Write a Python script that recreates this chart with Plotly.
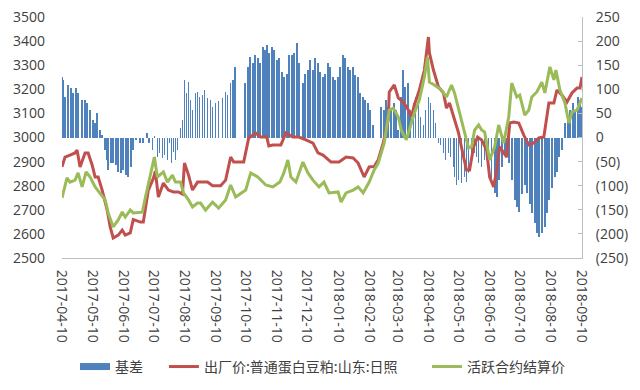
import plotly.graph_objects as go

# ---- tick labels ----
tick_dates = ["2017-04-10", "2017-05-10", "2017-06-10", "2017-07-10", "2017-08-10", "2017-09-10",
              "2017-10-10", "2017-11-10", "2017-12-10", "2018-01-10", "2018-02-10", "2018-03-10",
              "2018-04-10", "2018-05-10", "2018-06-10", "2018-07-10", "2018-08-10", "2018-09-10"]
left_ticks = [2500, 2600, 2700, 2800, 2900, 3000, 3100, 3200, 3300, 3400, 3500]
right_ticks = [-250, -200, -150, -100, -50, 0, 50, 100, 150, 200, 250]
right_labels = ["(250)", "(200)", "(150)", "(100)", "(50)", "0", "50", "100", "150", "200", "250"]

# ---- 基差 (bars, right axis) ----
basis_dates = [
    "2017-04-10", "2017-04-11", "2017-04-13", "2017-04-16", "2017-04-19", "2017-04-21", "2017-04-24", "2017-04-26",
    "2017-04-30", "2017-05-03", "2017-05-05", "2017-05-08", "2017-05-11", "2017-05-13", "2017-05-15", "2017-05-18",
    "2017-05-20", "2017-05-23", "2017-05-25", "2017-05-26", "2017-05-29", "2017-05-31", "2017-06-03", "2017-06-05",
    "2017-06-08", "2017-06-10", "2017-06-13", "2017-06-15", "2017-06-18", "2017-06-20", "2017-06-23", "2017-06-27",
    "2017-06-30", "2017-07-04", "2017-07-06", "2017-07-09", "2017-07-11", "2017-07-14", "2017-07-16", "2017-07-19",
    "2017-07-21", "2017-07-24", "2017-07-26", "2017-07-28", "2017-07-30", "2017-08-01", "2017-08-03", "2017-08-06",
    "2017-08-08", "2017-08-10", "2017-08-12", "2017-08-14", "2017-08-16", "2017-08-18", "2017-08-21", "2017-08-23",
    "2017-08-25", "2017-08-28", "2017-08-30", "2017-09-02", "2017-09-05", "2017-09-07", "2017-09-10", "2017-09-13",
    "2017-09-17", "2017-09-20", "2017-09-22", "2017-09-25", "2017-09-27", "2017-09-29", "2017-10-09", "2017-10-12",
    "2017-10-14", "2017-10-17", "2017-10-19", "2017-10-22", "2017-10-24", "2017-10-27", "2017-10-29", "2017-10-31",
    "2017-11-02", "2017-11-05", "2017-11-07", "2017-11-10", "2017-11-12", "2017-11-15", "2017-11-17", "2017-11-20",
    "2017-11-22", "2017-11-25", "2017-11-27", "2017-11-30", "2017-12-02", "2017-12-06", "2017-12-08", "2017-12-11",
    "2017-12-13", "2017-12-16", "2017-12-18", "2017-12-21", "2017-12-23", "2017-12-26", "2017-12-28", "2017-12-31",
    "2018-01-02", "2018-01-05", "2018-01-07", "2018-01-10", "2018-01-12", "2018-01-15", "2018-01-17", "2018-01-20",
    "2018-01-22", "2018-01-25", "2018-01-27", "2018-01-30", "2018-02-01", "2018-02-04", "2018-02-06", "2018-02-09",
    "2018-02-11", "2018-02-14", "2018-02-22", "2018-02-25", "2018-02-27", "2018-03-01", "2018-03-04", "2018-03-07",
    "2018-03-09", "2018-03-11", "2018-03-14", "2018-03-16", "2018-03-18", "2018-03-21", "2018-03-23", "2018-03-26",
    "2018-03-28", "2018-03-31", "2018-04-02", "2018-04-05", "2018-04-07", "2018-04-10", "2018-04-12", "2018-04-15",
    "2018-04-17", "2018-04-20", "2018-04-22", "2018-04-25", "2018-04-27", "2018-04-30", "2018-05-02", "2018-05-05",
    "2018-05-06", "2018-05-08", "2018-05-10", "2018-05-13", "2018-05-16", "2018-05-18", "2018-05-20", "2018-05-23",
    "2018-05-26", "2018-05-28", "2018-05-30", "2018-06-02", "2018-06-05", "2018-06-07", "2018-06-09", "2018-06-12",
    "2018-06-15", "2018-06-17", "2018-06-19", "2018-06-22", "2018-06-25", "2018-06-27", "2018-06-29", "2018-07-02",
    "2018-07-05", "2018-07-07", "2018-07-09", "2018-07-12", "2018-07-15", "2018-07-17", "2018-07-20", "2018-07-22",
    "2018-07-25", "2018-07-27", "2018-07-29", "2018-08-01", "2018-08-04", "2018-08-06", "2018-08-08", "2018-08-11",
    "2018-08-14", "2018-08-16", "2018-08-18", "2018-08-21", "2018-08-24", "2018-08-27", "2018-08-29", "2018-09-01",
    "2018-09-03", "2018-09-06", "2018-09-08", "2018-09-10"]
basis_values = [
    125, 120, 84, 109, 102, 92, 102, 92,
    78, 78, 72, 57, 37, 30, 51, 16,
    5, -26, -47, -68, -53, -53, -57, -72,
    -74, -68, -78, -82, -61, -26, -5, -11,
    -11, 9, -11, -26, 3, -40, -32, -43,
    -36, -47, -11, -53, -30, -47, -26, 20,
    36, 120, 92, 115, 78, 57, 92, 94,
    84, 88, 98, 82, 78, 63, 72, 75,
    82, 94, 88, 113, 120, 146, 113, 146,
    167, 155, 171, 165, 155, 188, 182, 192,
    176, 188, 182, 161, 165, 136, 126, 132,
    171, 171, 176, 196, 155, 113, 132, 140,
    161, 140, 165, 155, 136, 126, 132, 155,
    146, 126, 120, 126, 146, 171, 165, 146,
    140, 146, 130, 126, 92, 84, 78, 72,
    57, 26, 63, 57, 78, 63, 57, 72,
    57, 16, 84, 140, 105, 113, 57, 72,
    84, 78, 43, 26, 57, 84, 72, 57,
    30, -11, -16, -32, -47, -32, -40, -61,
    -82, -99, -89, -95, -82, -92, -74, -53,
    -32, -40, -53, -61, -47, -36, -74, -95,
    -115, -124, -89, -61, -32, -26, -53, -89,
    -130, -144, -155, -118, -99, -115, -137, -157,
    -177, -198, -207, -198, -185, -157, -130, -105,
    -82, -72, -40, -26, 30, 43, 57, 72,
    57, 84, 78, 63]

# ---- 出厂价:普通蛋白豆粕:山东:日照 (left axis) ----
spot_dates = [
    "2017-04-10", "2017-04-13", "2017-04-18", "2017-04-23", "2017-04-25", "2017-04-28", "2017-05-03", "2017-05-06",
    "2017-05-10", "2017-05-13", "2017-05-16", "2017-05-20", "2017-05-25", "2017-05-28", "2017-05-31", "2017-06-05",
    "2017-06-09", "2017-06-12", "2017-06-17", "2017-06-20", "2017-06-27", "2017-06-30", "2017-07-05", "2017-07-10",
    "2017-07-12", "2017-07-15", "2017-07-20", "2017-07-25", "2017-07-30", "2017-08-04", "2017-08-08", "2017-08-10",
    "2017-08-14", "2017-08-18", "2017-08-23", "2017-09-02", "2017-09-07", "2017-09-15", "2017-09-20", "2017-09-25",
    "2017-09-28", "2017-10-08", "2017-10-13", "2017-10-20", "2017-10-25", "2017-10-31", "2017-11-02", "2017-11-06",
    "2017-11-14", "2017-11-19", "2017-11-26", "2017-12-02", "2017-12-09", "2017-12-16", "2017-12-21", "2017-12-26",
    "2018-01-03", "2018-01-11", "2018-01-18", "2018-01-25", "2018-01-30", "2018-02-05", "2018-02-10", "2018-02-15",
    "2018-02-19", "2018-02-24", "2018-03-01", "2018-03-02", "2018-03-07", "2018-03-11", "2018-03-16", "2018-03-21",
    "2018-03-24", "2018-03-27", "2018-04-01", "2018-04-06", "2018-04-10", "2018-04-11", "2018-04-15", "2018-04-20",
    "2018-04-25", "2018-04-28", "2018-05-01", "2018-05-06", "2018-05-10", "2018-05-15", "2018-05-18", "2018-05-21",
    "2018-05-25", "2018-05-29", "2018-06-02", "2018-06-07", "2018-06-10", "2018-06-14", "2018-06-17", "2018-06-20",
    "2018-06-24", "2018-06-27", "2018-06-30", "2018-07-04", "2018-07-09", "2018-07-14", "2018-07-19", "2018-07-24",
    "2018-07-29", "2018-08-03", "2018-08-08", "2018-08-13", "2018-08-16", "2018-08-21", "2018-08-26", "2018-08-31",
    "2018-09-05", "2018-09-08", "2018-09-10"]
spot_values = [
    2878, 2919, 2927, 2936, 2948, 2878, 2936, 2936,
    2886, 2836, 2836, 2782, 2699, 2629, 2583, 2595,
    2616, 2595, 2604, 2660, 2649, 2649, 2782, 2830,
    2860, 2753, 2811, 2782, 2774, 2774, 2765, 2894,
    2845, 2782, 2815, 2815, 2800, 2800, 2823, 2919,
    2898, 2898, 2998, 3018, 3002, 3002, 2965, 2969,
    2969, 3019, 3002, 3002, 2990, 2977, 2936, 2927,
    2898, 2898, 2919, 2915, 2894, 2836, 2878, 2880,
    2907, 2977, 3073, 3189, 3218, 3164, 3147, 3114,
    3085, 3135, 3197, 3280, 3417, 3351, 3280, 3210,
    3185, 3122, 3143, 3073, 3019, 2919, 2865, 2865,
    2961, 3002, 2990, 2948, 2836, 2795, 2865, 2961,
    2936, 2919, 3060, 3064, 3060, 3010, 2969, 2977,
    2998, 3002, 3143, 3143, 3197, 3176, 3147, 3185,
    3205, 3205, 3251]

# ---- 活跃合约结算价 (left axis) ----
fut_dates = [
    "2017-04-10", "2017-04-15", "2017-04-18", "2017-04-23", "2017-04-26", "2017-04-30", "2017-05-04", "2017-05-08",
    "2017-05-13", "2017-05-18", "2017-05-23", "2017-05-26", "2017-05-31", "2017-06-05", "2017-06-09", "2017-06-12",
    "2017-06-17", "2017-06-20", "2017-06-29", "2017-07-02", "2017-07-05", "2017-07-11", "2017-07-14", "2017-07-20",
    "2017-07-24", "2017-07-29", "2017-08-01", "2017-08-06", "2017-08-09", "2017-08-14", "2017-08-18", "2017-08-23",
    "2017-08-26", "2017-08-31", "2017-09-07", "2017-09-13", "2017-09-20", "2017-09-25", "2017-09-30", "2017-10-10",
    "2017-10-15", "2017-10-22", "2017-10-30", "2017-11-06", "2017-11-13", "2017-11-17", "2017-11-21", "2017-11-24",
    "2017-11-29", "2017-12-06", "2017-12-11", "2017-12-16", "2017-12-22", "2017-12-27", "2018-01-01", "2018-01-10",
    "2018-01-13", "2018-01-18", "2018-01-25", "2018-01-30", "2018-02-04", "2018-02-10", "2018-02-15", "2018-02-19",
    "2018-02-25", "2018-03-02", "2018-03-06", "2018-03-11", "2018-03-14", "2018-03-19", "2018-03-22", "2018-03-27",
    "2018-04-01", "2018-04-06", "2018-04-09", "2018-04-11", "2018-04-16", "2018-04-23", "2018-04-28", "2018-05-03",
    "2018-05-06", "2018-05-11", "2018-05-16", "2018-05-20", "2018-05-23", "2018-05-26", "2018-05-30", "2018-06-02",
    "2018-06-05", "2018-06-10", "2018-06-15", "2018-06-19", "2018-06-24", "2018-06-29", "2018-07-02", "2018-07-07",
    "2018-07-10", "2018-07-15", "2018-07-19", "2018-07-22", "2018-07-27", "2018-08-01", "2018-08-04", "2018-08-09",
    "2018-08-13", "2018-08-15", "2018-08-19", "2018-08-24", "2018-08-28", "2018-08-31", "2018-09-05", "2018-09-10"]
fut_values = [
    2749, 2832, 2815, 2823, 2853, 2795, 2857, 2836,
    2795, 2770, 2741, 2687, 2629, 2658, 2691, 2670,
    2699, 2687, 2690, 2750, 2811, 2919, 2836, 2857,
    2815, 2844, 2815, 2815, 2770, 2741, 2712, 2728,
    2728, 2699, 2732, 2707, 2741, 2803, 2753, 2782,
    2853, 2836, 2803, 2795, 2815, 2853, 2907, 2836,
    2815, 2898, 2853, 2823, 2795, 2815, 2770, 2774,
    2732, 2770, 2782, 2795, 2770, 2815, 2865, 2894,
    2977, 3114, 3122, 3085, 3030, 2990, 3031, 3102,
    3156, 3251, 3334, 3230, 3218, 3197, 3168, 3218,
    3185, 3102, 3023, 2956, 2961, 3031, 3052, 3031,
    3023, 2907, 2961, 3052, 2977, 3085, 3226, 3168,
    3176, 3093, 3114, 3168, 3189, 3230, 3185, 3293,
    3239, 3280, 3197, 3143, 3060, 3106, 3114, 3164]

FONT = "Open Sans, Noto Sans CJK SC, sans-serif"
LEG_FONT = dict(family="Noto Sans CJK SC, sans-serif", size=14, color="#404040")
AXIS_GREY = "#bfbfbf"
TEXT = "#404040"
BLUE, RED, GREEN = "#4f81bd", "#c0504d", "#9bbb59"

fig = go.Figure()
fig.add_trace(go.Bar(
    x=basis_dates, y=basis_values, name="基差", yaxis="y",
    marker=dict(color=BLUE, line=dict(width=0)),
    width=0.7 * 86400000, showlegend=False,
))
# legend swatch for the bars (wide flat rectangle, as in the original)
fig.add_trace(go.Scatter(
    x=[None], y=[None], name="基差", yaxis="y", mode="lines",
    line=dict(color=BLUE, width=7), legend="legend",
))
fig.add_trace(go.Scatter(
    x=spot_dates, y=spot_values, name="出厂价:普通蛋白豆粕:山东:日照", yaxis="y2",
    mode="lines", line=dict(color=RED, width=3), legend="legend2",
))
fig.add_trace(go.Scatter(
    x=fut_dates, y=fut_values, name="活跃合约结算价", yaxis="y2",
    mode="lines", line=dict(color=GREEN, width=3), legend="legend3",
))

leg_common = dict(orientation="h", xanchor="left", yanchor="middle", y=-0.452,
                  font=LEG_FONT, itemwidth=30, bgcolor="rgba(0,0,0,0)")

# the page body adds an 8px offset, so margins are shifted to compensate
fig.update_layout(
    width=640, height=390,
    margin=dict(l=54, r=66, t=9, b=140, autoexpand=False),
    paper_bgcolor="white", plot_bgcolor="white",
    font=dict(family=FONT, size=14, color=TEXT),
    bargap=0,
    showlegend=True,
    legend=dict(x=0.025, **leg_common),
    legend2=dict(x=0.196, **leg_common),
    legend3=dict(x=0.702, **leg_common),
    xaxis=dict(
        type="date", range=["2017-04-10", "2018-09-10"],
        tickvals=tick_dates, ticktext=tick_dates, tickangle=90,
        showline=True, linecolor=AXIS_GREY, linewidth=1,
        ticks="", showgrid=False, zeroline=False, automargin=False,
        ticklabelstandoff=8, ticklabeloverflow="allow",
        tickfont=dict(family=FONT, size=14, color=TEXT),
    ),
    yaxis=dict(
        side="right", range=[-250, 250],
        tickvals=right_ticks, ticktext=right_labels,
        showline=True, linecolor=AXIS_GREY, linewidth=1,
        ticks="inside", ticklen=4, tickcolor=AXIS_GREY,
        showgrid=False, zeroline=False, automargin=False,
        ticklabelstandoff=10, ticklabeloverflow="allow",
    ),
    yaxis2=dict(
        overlaying="y", side="left", range=[2500, 3500],
        tickvals=left_ticks,
        showline=False, ticks="", showgrid=False, zeroline=False, automargin=False,
        ticklabelstandoff=16, ticklabeloverflow="allow",
    ),
)

fig.write_html("out.html")
